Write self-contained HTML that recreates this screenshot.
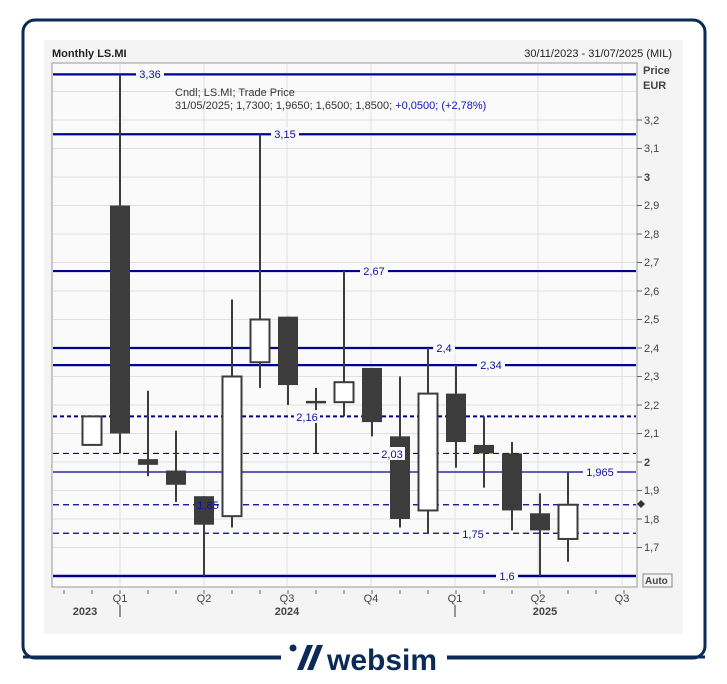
<!DOCTYPE html>
<html><head><meta charset="utf-8"><style>
body{margin:0;background:#fff;width:727px;height:679px;overflow:hidden;font-family:"Liberation Sans",sans-serif}
</style></head><body>
<svg id="s" width="727" height="679" xmlns="http://www.w3.org/2000/svg" font-family="'Liberation Sans',sans-serif">
<rect x="23" y="20" width="682" height="638" rx="12" fill="#fff" stroke="#0c2a56" stroke-width="3"/>
<rect x="44" y="40" width="639" height="594" fill="#f4f4f4"/>
<rect x="52" y="63" width="585" height="524" fill="#fafafa" stroke="#999" stroke-width="1"/>
<g id="grid" stroke="#e0e0e0" stroke-width="1"></g>
<text x="52" y="57" font-size="11" font-weight="bold" fill="#222">Monthly LS.MI</text>
<text x="672" y="57" font-size="11" fill="#222" text-anchor="end">30/11/2023 - 31/07/2025 (MIL)</text>
<text x="643" y="74" font-size="11" font-weight="bold" fill="#444">Price</text>
<text x="643" y="89" font-size="11" font-weight="bold" fill="#444">EUR</text>
<g font-size="11" fill="#444">
<text x="644" y="124">3,2</text><text x="644" y="152">3,1</text><text x="644" y="181" font-weight="bold">3</text>
<text x="644" y="209">2,9</text><text x="644" y="238">2,8</text><text x="644" y="266">2,7</text>
<text x="644" y="295">2,6</text><text x="644" y="323">2,5</text><text x="644" y="352">2,4</text>
<text x="644" y="380">2,3</text><text x="644" y="409">2,2</text><text x="644" y="437">2,1</text>
<text x="644" y="466" font-weight="bold">2</text><text x="644" y="494">1,9</text><text x="644" y="523">1,8</text>
<text x="644" y="551">1,7</text>
</g>
<g id="yt" stroke="#666"></g>
<rect x="643" y="574" width="29" height="13" fill="#f4f4f4" stroke="#888"/>
<text x="645" y="584" font-size="10" font-weight="bold" fill="#444">Auto</text>
<g font-size="11" fill="#444" text-anchor="middle">
<text x="120" y="602">Q1</text><text x="204" y="602">Q2</text><text x="287" y="602">Q3</text><text x="371" y="602">Q4</text>
<text x="455" y="602">Q1</text><text x="538" y="602">Q2</text><text x="622" y="602">Q3</text>
<text x="85" y="615" font-weight="bold">2023</text><text x="287" y="615" font-weight="bold">2024</text><text x="545" y="615" font-weight="bold">2025</text>
</g>
<line x1="120" y1="605" x2="120" y2="617" stroke="#333"/><line x1="455" y1="605" x2="455" y2="617" stroke="#333"/>
<g id="xt" stroke="#666"></g>
<g id="lines"></g>
<g id="c"></g>
<g font-size="11" fill="#1010a0" text-anchor="middle" id="lbl">
<rect x="136" y="67" width="28" height="13" fill="#fafafa"/><text x="150" y="78">3,36</text>
<rect x="271" y="127" width="28" height="13" fill="#fafafa"/><text x="285" y="138">3,15</text>
<rect x="360" y="264" width="28" height="13" fill="#fafafa"/><text x="374" y="275">2,67</text>
<rect x="433" y="341" width="22" height="13" fill="#fafafa"/><text x="444" y="352">2,4</text>
<rect x="477" y="358" width="28" height="13" fill="#fafafa"/><text x="491" y="369">2,34</text>
<rect x="294" y="410" width="26" height="13" fill="#fafafa"/><text x="307" y="421">2,16</text>
<rect x="379" y="447" width="26" height="13" fill="#fafafa"/><text x="392" y="458">2,03</text>
<rect x="583" y="465" width="34" height="13" fill="#fafafa"/><text x="600" y="476">1,965</text>
<text x="208" y="509">1,85</text>
<rect x="460" y="527" width="26" height="13" fill="#fafafa"/><text x="473" y="538">1,75</text>
<rect x="496" y="569" width="22" height="13" fill="#fafafa"/><text x="507" y="580">1,6</text>
</g>
<text x="175" y="96" font-size="11" fill="#333">Cndl; LS.MI; Trade Price</text>
<text x="175" y="109" font-size="11" fill="#333">31/05/2025; 1,7300; 1,9650; 1,6500; 1,8500; <tspan fill="#1010c0">+0,0500; (+2,78%)</tspan></text>
<path d="M637 504 l4 -4 l4 4 l-4 4z" fill="#333"/>
<rect x="281" y="640" width="166" height="40" fill="#fff"/>
<line x1="23" y1="657" x2="281" y2="657" stroke="#0c2a56" stroke-width="3"/>
<line x1="447" y1="657" x2="705" y2="657" stroke="#0c2a56" stroke-width="3"/>
<g fill="#0c2a56"><circle cx="293" cy="648" r="3.5"/><path d="M297 670 l10 -25 h6 l-10 25z"/><path d="M307 670 l10 -25 h6 l-10 25z"/></g>
<text x="327" y="670" font-family="'Liberation Sans',sans-serif" font-size="30" font-weight="bold" fill="#0c2a56">websim</text>
</svg>
<script>
const NS="http://www.w3.org/2000/svg";
const Y=p=>177+(3-p)*285;
function el(par,t,a){const e=document.createElementNS(NS,t);for(const k in a)e.setAttribute(k,a[k]);document.getElementById(par).appendChild(e);return e;}
for(let p=1.7;p<=3.31;p+=0.1){const y=Y(p);el("grid","line",{x1:53,x2:636,y1:y,y2:y});}
[120,204,287,371,455,538,622].forEach(x=>el("grid","line",{x1:x,x2:x,y1:64,y2:586}));
for(let p=1.7;p<=3.21;p+=0.1){const y=Y(p);el("yt","line",{x1:637,x2:642,y1:y,y2:y});}
for(let i=0;i<21;i++){const x=64+i*28;el("xt","line",{x1:x,x2:x,y1:590,y2:594});}
const L=[[3.36,2.2,""],[3.15,2.2,""],[2.67,2.2,""],[2.40,2.2,""],[2.34,2.2,""],[2.16,2,"4,3"],[2.03,1.2,"6,4"],[1.965,1.2,""],[1.85,1.2,"6,4"],[1.75,1.2,"6,4"],[1.6,2.5,""]];
L.forEach(([p,w,d])=>{const y=Y(p);const a={x1:53,x2:636,y1:y,y2:y,stroke:"#000090","stroke-width":w};if(d)a["stroke-dasharray"]=d;el("lines","line",a);});
const C=[[2.06,2.16,2.06,2.16],[2.90,3.36,2.03,2.10],[2.01,2.25,1.95,1.99],[1.97,2.11,1.86,1.92],[1.88,1.88,1.6,1.78],[1.81,2.57,1.77,2.30],[2.35,3.15,2.26,2.50],[2.51,2.51,2.20,2.27],[2.21,2.26,2.03,2.21],[2.21,2.67,2.16,2.28],[2.33,2.33,2.09,2.14],[2.09,2.30,1.77,1.80],[1.83,2.40,1.75,2.24],[2.24,2.34,1.98,2.07],[2.06,2.16,1.91,2.03],[2.03,2.07,1.76,1.83],[1.82,1.89,1.6,1.76],[1.73,1.965,1.65,1.85]];
C.forEach(([o,h,l,c],i)=>{const x=92+i*28;el("c","line",{x1:x,x2:x,y1:Y(h),y2:Y(l),stroke:"#3c3c3c","stroke-width":2});
const t=Y(Math.max(o,c)),b=Y(Math.min(o,c));
if(Math.abs(o-c)<0.005){el("c","line",{x1:x-10,x2:x+10,y1:t,y2:t,stroke:"#3c3c3c","stroke-width":2.5});return;}
if(c>o)el("c","rect",{x:x-9.5,y:t,width:19,height:b-t,fill:"#fff",stroke:"#3c3c3c","stroke-width":2});
else el("c","rect",{x:x-10,y:t,width:20,height:b-t,fill:"#3c3c3c"});});
</script>
</body></html>
